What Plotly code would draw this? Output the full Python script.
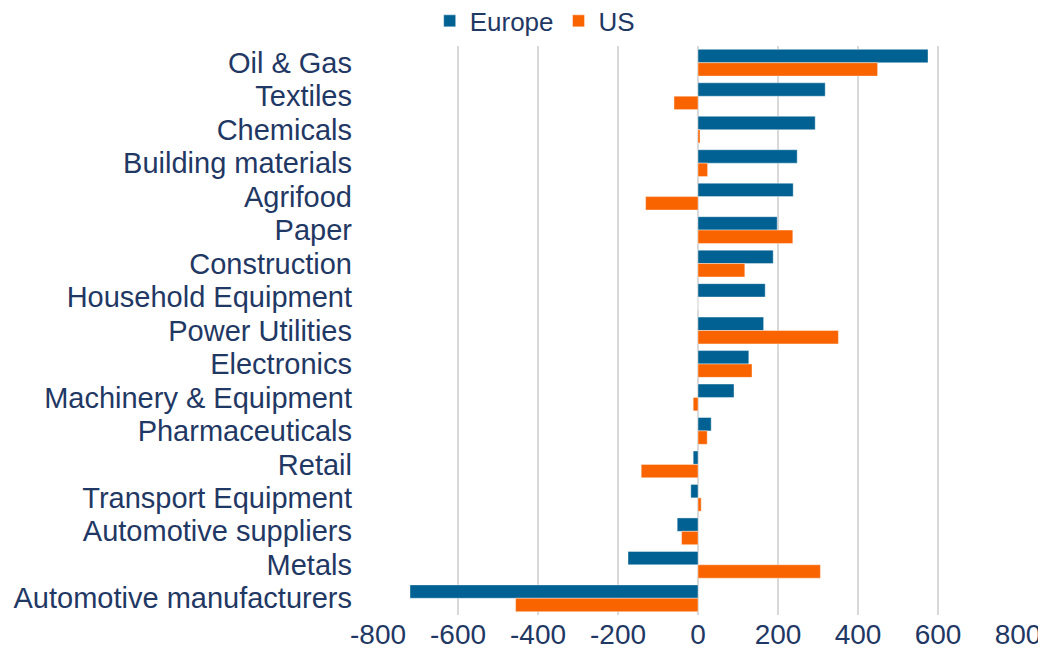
import plotly.graph_objects as go

categories = ["Oil & Gas", "Textiles", "Chemicals", "Building materials", "Agrifood",
              "Paper", "Construction", "Household Equipment", "Power Utilities",
              "Electronics", "Machinery & Equipment", "Pharmaceuticals", "Retail",
              "Transport Equipment", "Automotive suppliers", "Metals",
              "Automotive manufacturers"]
europe = [575, 318, 293, 248, 238, 198, 188, 168, 164, 127, 90, 33, -12, -18, -52, -175, -720]
us = [449, -60, 5, 24, -131, 237, 117, 0, 351, 135, -12, 23, -142, 8, -41, 306, -456]
x_ticks = [-800, -600, -400, -200, 0, 200, 400, 600, 800]

text_color = "#1F3864"
font = "Liberation Sans, Arial, sans-serif"

fig = go.Figure()
fig.add_trace(go.Bar(y=categories, x=europe, orientation="h", name="Europe",
                     marker=dict(color="#006192", line=dict(color="rgba(255,255,255,0.4)", width=1))))
fig.add_trace(go.Bar(y=categories, x=us, orientation="h", name="US",
                     marker=dict(color="#F96400", line=dict(color="rgba(255,255,255,0.4)", width=1))))

# page body has an 8px default margin, so the figure is sized to fit the window
fig.update_layout(
    width=1038, height=655,
    margin=dict(l=370, r=28, t=38, b=48, autoexpand=False),
    paper_bgcolor="white", plot_bgcolor="white",
    barmode="group", bargap=0.2, bargroupgap=0,
    font=dict(family=font, size=28, color=text_color),
    showlegend=True,
    legend=dict(orientation="h", xref="container", yref="container",
                x=0.5074, xanchor="center", y=0.9802, yanchor="middle",
                font=dict(size=26, color=text_color), itemwidth=30,
                bgcolor="rgba(0,0,0,0)"),
    xaxis=dict(range=[-800, 800], tickmode="array", tickvals=x_ticks,
               ticktext=[str(v) for v in x_ticks],
               automargin=False,
               showgrid=True, gridcolor="#D9D9D9", gridwidth=2,
               zeroline=True, zerolinecolor="#D9D9D9", zerolinewidth=2,
               showline=False, ticks="", tickfont=dict(size=28, color=text_color)),
    yaxis=dict(autorange="reversed", showgrid=False, showline=False, ticks="",
               tickmode="array", tickvals=categories, ticktext=categories,
               automargin=False,
               ticklabelstandoff=25, tickfont=dict(size=29, color=text_color)),
)

fig.write_html("out.html")
